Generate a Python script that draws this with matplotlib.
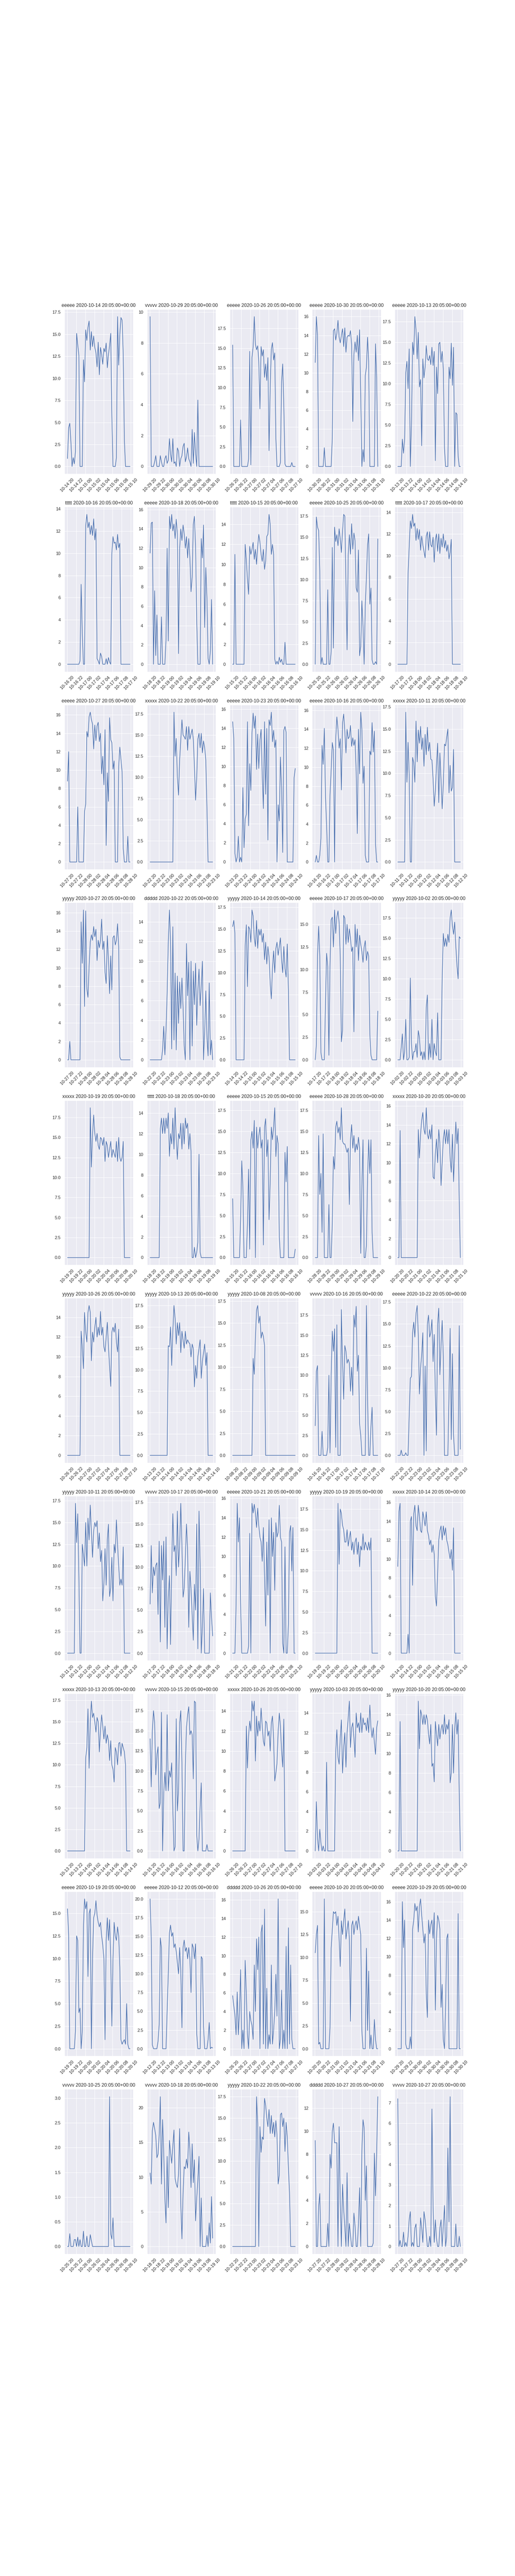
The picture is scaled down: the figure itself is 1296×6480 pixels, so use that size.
import matplotlib
matplotlib.use("Agg")
import matplotlib.pyplot as plt
import seaborn as sns
import pandas as pd

# panel titles: prefix + start day (all series start 20:05 UTC, 15 min steps)
prefixes = ["eeeee", "vvvvv", "eeeee", "eeeee", "eeeee",
            "ttttt", "eeeee", "ttttt", "eeeee", "ttttt",
            "eeeee", "xxxxx", "eeeee", "eeeee", "xxxxx",
            "yyyyy", "ddddd", "yyyyy", "eeeee", "yyyyy",
            "xxxxx", "ttttt", "eeeee", "eeeee", "xxxxx",
            "yyyyy", "yyyyy", "yyyyy", "vvvvv", "eeeee",
            "yyyyy", "vvvvv", "eeeee", "yyyyy", "xxxxx",
            "xxxxx", "vvvvv", "xxxxx", "yyyyy", "yyyyy",
            "eeeee", "eeeee", "ddddd", "eeeee", "eeeee",
            "vvvvv", "vvvvv", "yyyyy", "ddddd", "vvvvv"]
days = ["2020-10-14", "2020-10-29", "2020-10-26", "2020-10-30", "2020-10-13",
        "2020-10-16", "2020-10-18", "2020-10-15", "2020-10-25", "2020-10-17",
        "2020-10-27", "2020-10-22", "2020-10-23", "2020-10-16", "2020-10-11",
        "2020-10-27", "2020-10-22", "2020-10-14", "2020-10-17", "2020-10-02",
        "2020-10-19", "2020-10-18", "2020-10-15", "2020-10-28", "2020-10-20",
        "2020-10-26", "2020-10-13", "2020-10-08", "2020-10-16", "2020-10-22",
        "2020-10-11", "2020-10-17", "2020-10-21", "2020-10-19", "2020-10-14",
        "2020-10-13", "2020-10-15", "2020-10-26", "2020-10-03", "2020-10-20",
        "2020-10-19", "2020-10-12", "2020-10-26", "2020-10-20", "2020-10-29",
        "2020-10-25", "2020-10-18", "2020-10-22", "2020-10-27", "2020-10-27"]

# row 1
p01 = [0.9, 4.4, 4.9, 2.8, 0, 1.0, 0.3, 1.7, 15.1, 13.8, 12.6, 0, 0, 0, 12.1, 9.6,
       15.5, 14.3, 15.8, 16.5, 13.2, 15.3, 13.6, 14.8, 13.5, 12.9, 11.3, 14.1, 10.4, 13.5, 12.7, 11.6,
       13.4, 13.0, 14.0, 11.2, 12.7, 13.7, 15.1, 5.8, 0, 0, 0, 1.0, 17.0, 11.5, 15.0, 16.9,
       16.6, 12.7, 3.0, 0, 0, 0, 0, 0]
p02 = [9.7, 0, 0, 0, 0.3, 0.7, 0, 0, 0, 0.7, 0.3, 0, 0, 0.5, 0.7, 0.2,
       0.4, 1.8, 0.8, 0.3, 1.8, 0.2, 0.3, 0, 1.2, 1.0, 0, 0.5, 0.7, 1.3, 1.5, 0.3,
       0.6, 1.2, 0.5, 0.3, 0, 2.4, 0.2, 2.2, 0.8, 0, 4.3, 0, 0, 0, 0, 0,
       0, 0, 0, 0, 0, 0, 0, 0]
p03 = [15.4, 0, 0, 0, 0, 0, 0, 5.9, 0, 0, 0, 0, 0, 0, 0.9, 14.6,
       0.2, 13.8, 15.2, 19.0, 15.5, 14.8, 15.3, 13.3, 7.3, 15.2, 14.0, 14.8, 11.3, 13.0, 10.9, 13.8,
       2.0, 10.0, 14.9, 15.7, 13.5, 14.4, 3.5, 0, 0, 0, 0.5, 10.8, 13.0, 7.5, 0.3, 0,
       0, 0, 0, 0, 0.5, 0, 0, 0]
p04 = [11.1, 16.0, 14.0, 0, 0, 0, 0, 0, 2.0, 0, 0, 0, 0, 0, 0, 3.0,
       14.5, 14.7, 13.5, 14.2, 15.6, 13.8, 13.2, 14.0, 14.7, 12.8, 14.8, 12.2, 13.8, 14.0, 13.9, 14.5,
       13.0, 4.8, 12.0, 13.3, 12.2, 14.0, 11.3, 14.6, 7.5, 0, 1.8, 0.5, 9.7, 10.6, 13.8, 11.2,
       0, 0, 0, 0, 0, 13.1, 9.4, 0]
p05 = [0, 0, 0, 0, 3.3, 1.6, 3.3, 11.3, 12.7, 9.4, 14.2, 0, 5.0, 15.0, 13.5, 18.1,
       16.5, 13.0, 16.2, 9.6, 10.5, 2.5, 13.0, 10.7, 12.0, 14.6, 13.0, 12.8, 13.4, 12.3, 14.4, 12.2,
       13.9, 0.7, 12.0, 8.8, 14.8, 15.0, 12.6, 13.9, 11.8, 2.2, 0, 0, 0, 12.0, 10.6, 14.9,
       9.8, 14.4, 0, 6.5, 6.3, 1.3, 0, 0]
# row 2
p06 = [0, 0, 0, 0, 0, 0, 0, 0, 0, 0, 0, 0.3, 7.2, 2.8, 0, 0,
       12.5, 13.5, 12.3, 12.8, 11.7, 12.5, 11.6, 13.1, 11.2, 12.2, 0.5, 0.3, 0, 1.0, 0.7, 0,
       0, 0, 0.5, 0, 0.6, 0.2, 0, 10.0, 11.5, 10.9, 11.0, 10.3, 11.7, 10.5, 10.9, 0,
       0, 0, 0, 0, 0, 0, 0, 0]
p07 = [11.5, 14.6, 14.7, 0, 7.6, 0.9, 5.1, 0, 0, 0, 4.9, 0, 0, 0, 2.5, 12.0,
       2.4, 15.3, 14.0, 15.5, 13.8, 14.5, 13.0, 15.0, 13.5, 1.1, 12.0, 14.0, 12.8, 14.4, 13.5, 12.0,
       13.2, 11.0, 13.0, 11.0, 7.5, 9.0, 14.5, 15.3, 12.0, 4.5, 0, 0, 0, 13.0, 11.0, 14.4,
       3.8, 10.0, 6.8, 0.6, 0, 1.4, 6.7, 0]
p08 = [0, 0, 11.0, 0, 0, 0, 0, 0, 0, 0, 0, 12.0, 10.5, 8.5, 7.0, 11.8,
       11.0, 11.5, 12.2, 10.5, 11.5, 10.0, 11.8, 13.0, 12.2, 11.0, 10.3, 11.5, 9.5, 10.3, 12.8, 13.0,
       15.0, 14.0, 11.0, 12.0, 11.0, 0.5, 0, 0.3, 0, 0.7, 0.2, 0.5, 0, 0, 2.2, 0,
       0, 0, 0, 0, 0, 0, 0, 0]
p09 = [0, 17.4, 16.2, 15.8, 11.0, 0, 0.8, 0, 0, 0, 0, 8.8, 0, 0, 1.5, 13.8,
       1.9, 16.2, 14.5, 15.3, 14.0, 16.0, 14.8, 13.2, 15.8, 17.7, 17.5, 9.5, 1.7, 12.9, 15.3, 13.0,
       16.6, 13.6, 15.5, 14.6, 9.0, 8.5, 13.5, 1.0, 2.1, 7.5, 4.5, 0, 6.9, 10.3, 14.1, 15.4,
       7.1, 9.0, 0.5, 0, 0, 0.3, 0, 14.8]
p10 = [0, 0, 0, 0, 0, 0, 0, 0, 0, 8.3, 10.8, 13.2, 12.5, 13.8, 12.7, 13.0,
       11.4, 12.5, 11.5, 12.4, 10.5, 11.8, 11.0, 10.4, 9.8, 11.8, 12.2, 10.5, 12.2, 11.0, 10.8, 11.7,
       9.4, 11.5, 12.0, 10.4, 12.0, 10.2, 11.6, 10.8, 12.0, 10.7, 11.4, 10.4, 11.0, 9.7, 10.3, 11.5,
       0, 0, 0, 0, 0, 0, 0, 0]
# row 3
p11 = [8.8, 12.0, 0, 0, 0, 0, 0, 0, 0, 6.0, 0, 0, 0, 0, 0, 5.5,
       6.3, 14.2, 13.6, 15.8, 16.3, 15.5, 15.0, 12.3, 14.9, 13.2, 14.8, 15.2, 13.1, 14.0, 9.6, 11.5,
       8.4, 14.4, 1.8, 9.7, 6.6, 15.7, 13.3, 13.0, 10.1, 11.0, 0, 0, 0, 10.4, 12.5, 11.2,
       9.8, 1.5, 0, 0, 0, 2.8, 0, 0]
p12 = [0, 0, 0, 0, 0, 0, 0, 0, 0, 0, 0, 0, 0, 0, 0, 0,
       0, 0, 0, 0, 0, 17.7, 12.5, 14.6, 10.0, 7.9, 12.1, 14.4, 16.8, 15.0, 14.8, 14.5,
       16.0, 13.2, 16.0, 14.5, 15.1, 15.7, 14.5, 11.3, 7.3, 10.0, 14.5, 15.2, 13.5, 15.2, 12.9, 14.3,
       13.5, 12.0, 6.3, 0, 0, 0, 0, 0]
p13 = [14.7, 13.0, 0.9, 0, 0.5, 2.7, 0, 0.5, 0, 7.8, 1.5, 4.5, 5.0, 14.7, 3.8, 10.3,
       7.5, 13.5, 15.6, 14.0, 15.3, 9.7, 13.4, 9.8, 12.8, 13.9, 9.2, 5.6, 14.7, 7.1, 14.0, 2.3,
       14.9, 14.3, 15.7, 12.6, 13.8, 12.0, 12.8, 0, 6.0, 4.3, 11.0, 7.8, 1.0, 13.8, 14.2, 13.6,
       0, 0, 0, 0, 0, 0, 8.8, 9.8]
p14 = [0, 0.7, 0, 0, 0.7, 2.5, 12.3, 10.3, 14.1, 6.9, 3.9, 0, 0, 7.1, 9.7, 12.6,
       11.8, 0, 13.0, 15.3, 14.0, 12.0, 13.0, 7.6, 14.7, 15.6, 13.8, 11.5, 14.0, 13.0, 13.2, 14.4,
       12.2, 13.1, 12.3, 12.9, 9.5, 3.0, 14.0, 9.3, 15.8, 14.0, 8.3, 10.1, 0.7, 0, 0, 0,
       11.7, 11.3, 14.7, 11.6, 13.8, 1.9, 0, 0]
p15 = [0, 0, 0, 0, 0, 0, 0, 16.9, 9.0, 13.5, 9.9, 0, 0, 11.8, 11.2, 9.0,
       15.9, 11.3, 14.9, 13.4, 15.3, 12.7, 14.0, 10.8, 14.4, 12.1, 15.2, 12.5, 13.5, 11.6, 11.5, 9.4,
       6.3, 8.0, 10.9, 13.4, 6.7, 12.3, 9.2, 6.0, 8.8, 13.3, 13.1, 14.1, 15.0, 7.8, 10.9, 8.0,
       8.4, 12.7, 0, 0, 0, 0, 0, 0]
# row 4
p16 = [0, 0, 2.0, 0, 0, 0, 0, 0, 0, 0, 0, 0, 15.0, 10.5, 16.3, 5.8,
       16.2, 7.7, 6.8, 10.2, 12.8, 13.6, 13.0, 14.5, 13.4, 14.2, 10.8, 13.0, 12.2, 13.0, 15.3, 12.0,
       12.9, 9.5, 8.3, 13.5, 11.0, 7.2, 11.3, 7.6, 13.3, 13.5, 12.5, 13.0, 14.8, 12.3, 0.3, 0,
       0, 0, 0, 0, 0, 0, 0, 0]
p17 = [0, 0, 0, 0, 0, 0, 0, 0, 0, 0, 0, 1.0, 3.4, 0.5, 3.0, 6.7,
       12.0, 15.2, 12.0, 1.1, 13.5, 2.0, 8.8, 1.0, 8.5, 3.7, 7.9, 5.2, 8.3, 5.3, 1.4, 0,
       11.8, 6.5, 9.9, 0, 10.0, 1.4, 9.0, 5.6, 9.8, 3.5, 7.0, 9.2, 5.5, 7.5, 10.0, 0,
       2.9, 7.0, 2.3, 0.4, 7.8, 0.5, 2.0, 0]
p18 = [15.3, 16.0, 14.5, 0, 0, 0, 0, 0, 0, 0, 0, 13.0, 15.5, 8.4, 15.3, 15.0,
       13.5, 17.2, 16.5, 14.0, 13.0, 16.0, 12.8, 15.0, 14.3, 15.0, 13.5, 14.5, 11.5, 13.5, 11.0, 13.0,
       11.8, 8.8, 7.0, 10.5, 12.5, 10.0, 12.8, 13.5, 12.0, 13.0, 14.0, 11.5, 10.0, 13.0, 10.5, 9.5,
       13.3, 8.0, 0, 0, 0, 0, 0, 0]
p19 = [0, 1.7, 11.5, 14.8, 11.5, 0.8, 0, 0, 0, 6.3, 11.8, 10.3, 0.5, 10.5, 15.5, 15.8,
       12.5, 16.6, 14.0, 15.8, 16.5, 15.2, 11.5, 2.0, 3.3, 16.0, 15.7, 12.8, 15.0, 13.0, 14.5, 13.5,
       12.0, 12.5, 3.1, 15.0, 12.5, 14.5, 11.0, 13.8, 12.8, 12.0, 10.8, 12.5, 13.2, 11.0, 12.0, 11.5,
       2.8, 0.5, 0, 0, 0, 0, 0, 5.4]
p20 = [0, 0, 0, 1.5, 3.2, 0, 1.0, 5.0, 0, 0, 0.3, 10.1, 2.0, 0, 1.0, 1.0,
       2.0, 0.3, 3.6, 2.8, 0.5, 1.0, 0, 1.0, 0, 6.5, 8.0, 0, 2.0, 0.3, 5.0, 0,
       2.0, 1.0, 0.5, 5.8, 0, 0, 0, 10.0, 15.6, 14.0, 15.0, 14.0, 15.5, 14.5, 17.5, 18.5,
       16.5, 15.5, 17.0, 14.0, 11.7, 10.0, 15.2, 15.0]
# row 5
p21 = [0, 0, 0, 0, 0, 0, 0, 0, 0, 0, 0, 0, 0, 0, 0, 0,
       0, 0, 0, 0, 18.7, 11.3, 15.3, 17.8, 15.5, 14.5, 15.5, 14.0, 13.5, 15.0, 14.8, 14.0,
       15.0, 12.0, 14.5, 14.0, 12.5, 13.5, 14.5, 12.5, 13.5, 13.0, 12.5, 14.5, 12.0, 15.0, 12.5, 12.0,
       12.5, 14.5, 0, 0, 0, 0, 0, 0]
p22 = [0, 0, 0, 0, 0, 0, 0, 0, 0, 12.5, 13.5, 12.0, 13.5, 12.0, 13.5, 12.5,
       14.0, 9.8, 12.0, 11.0, 13.5, 10.5, 14.5, 11.5, 9.5, 12.0, 11.5, 13.0, 10.5, 13.0, 11.0, 13.5,
       12.5, 13.0, 10.5, 12.0, 10.3, 0, 0, 1.0, 0, 0.5, 1.5, 10.0, 0.5, 0, 0, 0,
       0, 0, 0, 0, 0, 0, 0, 0]
p23 = [7.0, 0, 0, 0, 0, 0, 0, 4.5, 11.5, 8.3, 0, 0, 0, 4.0, 10.5, 1.0,
       14.0, 15.0, 13.0, 16.3, 0, 15.5, 13.0, 14.5, 15.5, 13.0, 14.0, 1.5, 15.5, 16.5, 12.0, 14.0,
       4.5, 9.0, 15.5, 14.0, 15.5, 17.8, 12.0, 14.5, 13.5, 2.5, 0, 0, 0, 0, 12.5, 9.0,
       13.2, 0, 0, 0, 0, 0, 0, 1.0]
p24 = [0, 0, 0, 14.5, 7.5, 10.0, 3.0, 14.7, 0, 0, 0, 0, 6.3, 0, 0, 4.0,
       12.0, 10.5, 15.5, 16.2, 14.8, 15.5, 14.0, 17.8, 13.8, 13.5, 13.5, 13.0, 12.5, 13.0, 6.3, 14.0,
       15.8, 13.0, 14.5, 12.5, 13.5, 12.8, 14.3, 13.0, 0.5, 8.5, 14.0, 0, 0, 1.5, 9.5, 14.0,
       10.0, 14.0, 3.0, 0, 0, 0, 0, 0]
p25 = [0, 0, 13.4, 0, 0, 0, 0, 0, 0, 0, 0, 0, 0, 0, 0, 0,
       0, 0, 13.5, 10.5, 13.0, 14.5, 15.3, 13.5, 13.0, 15.8, 13.0, 12.5, 13.5, 12.5, 14.0, 8.5,
       8.3, 11.0, 12.5, 10.0, 13.5, 12.0, 7.6, 10.0, 12.5, 13.5, 12.0, 13.5, 12.0, 13.5, 10.5, 9.0,
       13.0, 8.0, 11.0, 14.3, 12.0, 13.6, 6.0, 0]
# row 6
p26 = [0, 0, 0, 0, 0, 0, 0, 0, 0, 0, 0, 0, 12.6, 11.0, 8.8, 14.5,
       12.5, 11.5, 14.5, 15.2, 14.5, 9.6, 12.5, 11.5, 13.0, 14.0, 12.0, 13.0, 12.2, 14.6, 12.2, 13.0,
       11.0, 10.5, 12.0, 13.5, 11.0, 9.0, 7.0, 12.5, 13.0, 12.5, 13.4, 11.5, 10.5, 12.8, 0, 0,
       0, 0, 0, 0, 0, 0, 0, 0]
p27 = [0, 0, 0, 0, 0, 0, 0, 0, 0, 0, 0, 0, 0, 0, 0, 0,
       12.8, 12.7, 15.0, 10.5, 14.5, 17.5, 16.0, 13.0, 15.5, 14.0, 15.5, 12.0, 14.5, 13.5, 12.5, 14.5,
       13.0, 13.5, 13.2, 13.0, 11.5, 13.0, 12.5, 8.0, 10.5, 9.0, 11.5, 12.5, 13.5, 9.0, 11.0, 12.0,
       13.0, 10.5, 12.0, 0, 0, 0, 0, 0]
p28 = [0, 0, 0, 0, 0, 0, 0, 0, 0, 0, 0, 0, 0, 0, 0, 0,
       0, 0, 11.0, 9.2, 13.3, 16.5, 17.0, 15.0, 15.8, 13.3, 14.0, 13.5, 12.5, 0, 0, 0,
       0, 0, 0, 0, 0, 0, 0, 0, 0, 0, 0, 0, 0, 0, 0, 0,
       0, 0, 0, 0, 0, 0, 0, 0]
p29 = [3.7, 10.5, 11.2, 0, 0, 0, 3.0, 0, 0, 0, 0, 1.0, 10.0, 0.3, 10.0, 15.5,
       13.0, 15.8, 1.0, 16.3, 0, 0, 0, 18.2, 11.5, 7.0, 13.7, 13.0, 11.5, 12.0, 11.5, 8.0,
       11.0, 7.5, 17.5, 16.0, 18.6, 10.5, 12.5, 4.0, 2.5, 0, 0, 0, 0, 18.7, 7.0, 0,
       0, 3.7, 6.0, 0, 0, 0, 0, 0]
p30 = [0, 0, 0, 0.6, 0, 0, 0, 0.3, 0, 0, 4.5, 8.8, 9.0, 14.0, 15.2, 13.5,
       16.2, 17.1, 13.8, 7.0, 10.0, 11.5, 14.0, 0, 10.2, 0.5, 15.0, 16.0, 13.5, 14.0, 15.5, 10.7,
       13.8, 6.8, 2.3, 15.0, 16.8, 9.2, 12.5, 15.4, 11.3, 0, 0, 0, 0, 6.8, 14.5, 1.8,
       11.6, 2.3, 0, 0, 0, 0, 14.8, 0.7]
# row 7
p31 = [0, 0, 0, 0, 0, 0, 0, 17.2, 12.7, 16.0, 8.8, 0, 0, 12.5, 11.3, 10.0,
       15.0, 10.0, 15.5, 13.0, 17.0, 14.0, 11.0, 14.0, 15.0, 14.5, 15.2, 12.0, 13.8, 10.5, 11.8, 6.0,
       8.0, 12.0, 7.8, 13.0, 14.8, 6.5, 7.5, 11.0, 6.0, 12.5, 11.5, 15.3, 12.5, 10.0, 7.8, 8.5,
       7.8, 12.2, 0, 0, 0, 0, 0, 0]
p32 = [5.7, 12.5, 7.0, 10.0, 9.0, 10.2, 10.5, 4.5, 13.0, 1.3, 12.5, 8.5, 13.0, 3.0, 13.5, 0.5,
       6.5, 9.0, 1.0, 10.0, 16.2, 11.8, 12.5, 9.0, 16.5, 10.0, 12.5, 17.4, 12.5, 6.5, 7.5, 11.0,
       15.0, 12.0, 3.0, 9.5, 7.5, 4.5, 1.5, 8.0, 5.0, 15.0, 0.5, 16.5, 10.5, 0, 3.0, 7.5,
       0, 0, 0, 0, 0, 7.0, 4.2, 2.0]
p33 = [0, 0, 0, 5.0, 15.5, 11.5, 14.0, 5.2, 0, 0, 0, 0, 0, 0, 0.7, 12.4,
       0, 15.5, 14.5, 15.4, 14.5, 13.0, 15.0, 13.2, 12.0, 11.5, 9.5, 13.0, 8.0, 2.8, 11.5, 6.0,
       13.8, 0, 14.0, 10.0, 12.5, 6.5, 13.5, 12.0, 12.5, 15.3, 12.0, 11.5, 1.0, 0, 11.0, 0,
       0, 3.0, 12.5, 13.2, 8.5, 13.0, 0, 0]
p34 = [0, 0, 0, 0, 0, 0, 0, 0, 0, 0, 0, 0, 0, 0, 0, 0,
       0, 0, 0, 0, 18.2, 10.8, 17.5, 17.0, 15.5, 15.0, 13.5, 13.5, 15.0, 13.0, 14.0, 14.8,
       12.5, 13.5, 12.0, 13.5, 14.0, 12.0, 13.5, 10.5, 13.0, 12.5, 14.5, 12.5, 13.5, 13.0, 12.5, 13.5,
       12.5, 14.0, 0, 0, 0, 0, 0, 0]
p35 = [9.2, 15.0, 15.9, 0, 0, 0, 0, 0, 0, 2.0, 0, 14.0, 14.5, 7.2, 14.8, 15.7,
       13.5, 13.0, 15.7, 14.5, 13.0, 12.8, 15.0, 14.3, 13.5, 15.0, 13.0, 12.5, 11.5, 12.0, 10.7, 11.5,
       10.5, 6.0, 5.0, 8.5, 12.0, 13.0, 13.5, 12.0, 13.5, 12.5, 13.3, 12.0, 11.5, 10.7, 10.0, 11.0,
       8.8, 13.3, 0, 0, 0, 0, 0, 0]
# row 8
p36 = [0, 0, 0, 0, 0, 0, 0, 0, 0, 0, 0, 0, 0, 0, 0, 0,
       10.8, 12.0, 16.5, 9.6, 15.0, 17.4, 15.5, 16.0, 15.0, 13.8, 15.5, 15.0, 11.5, 14.0, 15.8, 14.5,
       13.0, 14.5, 12.5, 13.5, 12.8, 10.5, 12.8, 10.0, 9.5, 8.0, 12.0, 11.5, 10.0, 12.5, 12.6, 11.0,
       12.5, 12.0, 11.5, 10.0, 0, 0, 0, 0]
p37 = [14.0, 8.0, 15.0, 17.5, 16.0, 9.5, 12.0, 13.0, 5.3, 6.0, 17.3, 0, 7.2, 9.8, 7.5, 17.0,
       7.5, 10.0, 9.2, 11.0, 5.2, 0, 0.5, 16.5, 5.0, 7.5, 16.0, 17.5, 11.0, 0, 0, 10.5,
       15.5, 17.0, 18.0, 14.5, 15.0, 14.5, 9.0, 18.7, 18.5, 2.0, 0, 1.5, 5.5, 8.5, 0, 0,
       0, 0, 0.8, 0, 0, 0, 0, 0]
p38 = [0, 0, 0, 0, 0, 0, 0, 0, 0, 0, 0, 0, 12.5, 8.3, 11.5, 13.0,
       12.0, 15.0, 14.0, 15.0, 9.0, 13.5, 11.5, 13.0, 12.0, 14.3, 12.5, 11.0, 10.5, 13.0, 12.8, 11.5,
       12.0, 10.0, 12.8, 13.5, 11.2, 7.0, 7.8, 8.8, 12.0, 13.8, 12.5, 10.0, 8.4, 13.2, 0, 0,
       0, 0, 0, 0, 0, 0, 0, 0]
p39 = [0, 5.0, 1.3, 0, 2.2, 0.8, 0, 0.5, 0, 0, 9.0, 0, 0, 0, 0, 0,
       0, 0, 10.0, 12.3, 9.5, 8.8, 11.5, 13.3, 7.9, 10.5, 12.0, 8.5, 12.0, 13.5, 15.2, 10.5,
       12.5, 13.0, 11.5, 9.5, 14.0, 12.5, 13.0, 12.0, 14.0, 12.0, 13.5, 12.8, 13.0, 12.2, 13.5, 12.0,
       14.8, 12.5, 11.5, 12.5, 11.0, 9.8, 12.5, 13.2]
p40 = [0, 0, 13.3, 0, 0, 0, 0, 0, 0, 0, 0, 0, 0, 0, 0, 0,
       0, 0, 15.4, 10.5, 14.5, 14.0, 13.0, 14.0, 13.0, 14.0, 13.5, 12.0, 11.0, 13.0, 8.7, 9.0,
       7.1, 13.3, 12.0, 10.8, 13.0, 11.5, 12.5, 13.0, 12.0, 14.0, 12.0, 13.0, 12.5, 13.5, 7.0, 8.0,
       13.0, 8.0, 12.5, 14.2, 12.0, 13.5, 6.0, 0]
# row 9
p41 = [15.5, 12.5, 0, 0, 0, 0, 0, 2.0, 12.5, 12.0, 4.0, 4.5, 0, 2.0, 13.5, 16.6,
       15.5, 16.3, 8.0, 15.0, 15.5, 0, 10.0, 14.5, 15.0, 16.4, 14.8, 14.0, 13.5, 14.0, 12.5, 11.5,
       10.0, 1.0, 12.0, 14.5, 12.0, 14.3, 10.0, 2.5, 10.0, 14.0, 12.5, 12.0, 13.5, 12.5, 9.0, 1.0,
       0.5, 0.8, 1.0, 0.5, 5.0, 0.5, 0, 0]
p42 = [20.0, 14.8, 0.5, 0, 0, 0, 0, 1.0, 3.2, 14.8, 13.5, 0, 0, 0, 0, 5.0,
       10.0, 15.5, 16.5, 15.0, 15.5, 13.5, 14.0, 13.0, 11.5, 10.0, 13.5, 10.5, 2.8, 13.5, 14.5, 13.0,
       13.5, 12.0, 13.5, 12.0, 7.5, 14.0, 13.5, 12.0, 14.0, 2.0, 0, 0, 0, 12.3, 12.0, 3.0,
       0, 0, 0, 1.2, 3.5, 0, 0.2, 0.1]
p43 = [5.7, 4.6, 3.6, 1.5, 6.1, 1.5, 4.0, 8.5, 0, 2.0, 0, 9.5, 6.0, 1.5, 0, 4.0,
       3.0, 2.5, 1.0, 9.0, 4.0, 11.8, 8.5, 12.0, 0, 12.5, 13.3, 0.5, 15.0, 0, 6.5, 0,
       1.5, 0.5, 9.0, 0.5, 2.0, 4.0, 8.0, 3.5, 16.1, 0, 1.0, 6.3, 0, 2.0, 0, 11.0,
       0, 13.0, 0.5, 9.0, 1.0, 0, 0, 0]
p44 = [10.5, 12.5, 13.5, 0.5, 0.7, 0, 0, 0, 16.4, 0, 0, 0, 0, 2.3, 11.0, 13.0,
       15.0, 14.8, 15.0, 13.5, 14.5, 12.0, 9.0, 14.0, 12.5, 14.0, 15.3, 12.0, 13.0, 14.0, 12.0, 3.0,
       13.5, 14.0, 12.5, 13.5, 14.0, 13.0, 14.5, 13.5, 12.5, 2.0, 0, 0, 0, 11.0, 2.0, 8.5,
       0, 1.5, 0, 0, 3.2, 1.0, 0, 0]
p45 = [0, 0, 0, 0, 16.0, 11.0, 14.0, 0.5, 0, 0, 0, 1.3, 0, 13.0, 14.0, 15.8,
       15.0, 15.5, 12.7, 15.5, 16.3, 14.5, 13.0, 11.5, 12.5, 6.0, 3.4, 14.0, 12.5, 13.5, 14.0, 12.0,
       14.8, 4.2, 12.0, 14.5, 14.0, 13.0, 4.5, 7.0, 1.0, 0, 4.5, 12.0, 12.5, 0, 0, 0,
       0, 0, 0, 0, 0, 14.7, 0, 0]
# row 10
p46 = [0, 0, 0.26, 0, 0, 0, 0.14, 0.14, 0, 0.19, 0, 0.14, 0, 0, 0.31, 0,
       0, 0.21, 0, 0, 0.24, 0.12, 0, 0, 0, 0, 0, 0, 0, 0, 0, 0,
       0, 0, 0, 0, 0, 3.03, 0.25, 0.15, 0.58, 0, 0, 0, 0, 0, 0, 0,
       0, 0, 0, 0, 0, 0, 0, 0]
p47 = [10.6, 9.0, 16.7, 17.9, 17.0, 16.0, 12.8, 13.3, 16.0, 21.6, 9.0, 18.3, 13.5, 7.0, 3.4, 13.0,
       5.6, 15.3, 13.5, 12.0, 14.5, 16.8, 9.8, 9.0, 8.5, 10.5, 17.0, 6.2, 1.1, 7.7, 11.5, 11.2,
       12.6, 11.3, 16.5, 14.0, 8.5, 14.8, 9.2, 12.5, 3.7, 7.0, 9.6, 13.0, 0, 7.0, 0, 0,
       0, 0, 1.6, 0, 3.4, 0.5, 7.2, 1.2]
p48 = [0, 0, 0, 0, 0, 0, 0, 0, 0, 0, 0, 0, 0, 0, 0, 0,
       0, 0, 0, 0, 0, 17.5, 14.4, 0, 14.0, 11.0, 12.8, 12.5, 17.3, 16.5, 15.0, 14.0,
       16.0, 13.2, 15.3, 13.2, 14.5, 12.8, 14.7, 13.0, 7.3, 8.3, 15.4, 15.6, 14.0, 15.0, 11.1, 14.5,
       12.8, 9.2, 6.3, 0, 0, 0, 0, 0]
p49 = [9.2, 0, 0, 3.5, 4.6, 0, 0, 0, 0, 0, 0, 2.0, 0, 8.0, 6.8, 10.0,
       10.7, 9.0, 9.0, 9.0, 0, 10.4, 3.9, 0, 5.4, 3.2, 1.7, 0, 6.4, 0, 2.0, 1.0,
       0, 0, 2.9, 1.8, 0, 0, 2.0, 5.1, 0, 8.3, 11.0, 10.3, 4.0, 7.0, 0, 0,
       0, 0, 0, 0.3, 8.1, 4.4, 8.2, 13.0]
p50 = [7.2, 0, 0.3, 0, 0, 0.7, 0, 0.2, 0, 0.5, 1.3, 1.7, 0, 0.2, 0, 0.9,
       1.1, 0, 0, 0, 1.4, 0.9, 0.2, 1.7, 1.3, 0.65, 0, 0, 0.5, 0, 6.7, 2.0,
       0.2, 1.3, 0.4, 0, 0, 0.9, 1.3, 0, 1.0, 2.0, 0, 0.5, 4.8, 1.2, 7.3, 0,
       0, 0, 0, 1.1, 0, 0, 0.5, 0]

series = [p01, p02, p03, p04, p05, p06, p07, p08, p09, p10,
          p11, p12, p13, p14, p15, p16, p17, p18, p19, p20,
          p21, p22, p23, p24, p25, p26, p27, p28, p29, p30,
          p31, p32, p33, p34, p35, p36, p37, p38, p39, p40,
          p41, p42, p43, p44, p45, p46, p47, p48, p49, p50]

sns.set_theme()
plt.rcParams['font.family'] = ['Liberation Sans', 'DejaVu Sans']

fig, axes = plt.subplots(10, 5, figsize=(18, 90))
fig.subplots_adjust(bottom=0.125)

for ax, name, day, vals in zip(axes.flat, prefixes, days, series):
    t = pd.date_range(day + " 20:05", periods=len(vals), freq="15min")
    ax.plot(t, vals)
    ax.set_title(name + " " + day + " 20:05:00+00:00")
    ax.tick_params(axis='x', rotation=45)

fig.savefig("out.png", dpi=72)
